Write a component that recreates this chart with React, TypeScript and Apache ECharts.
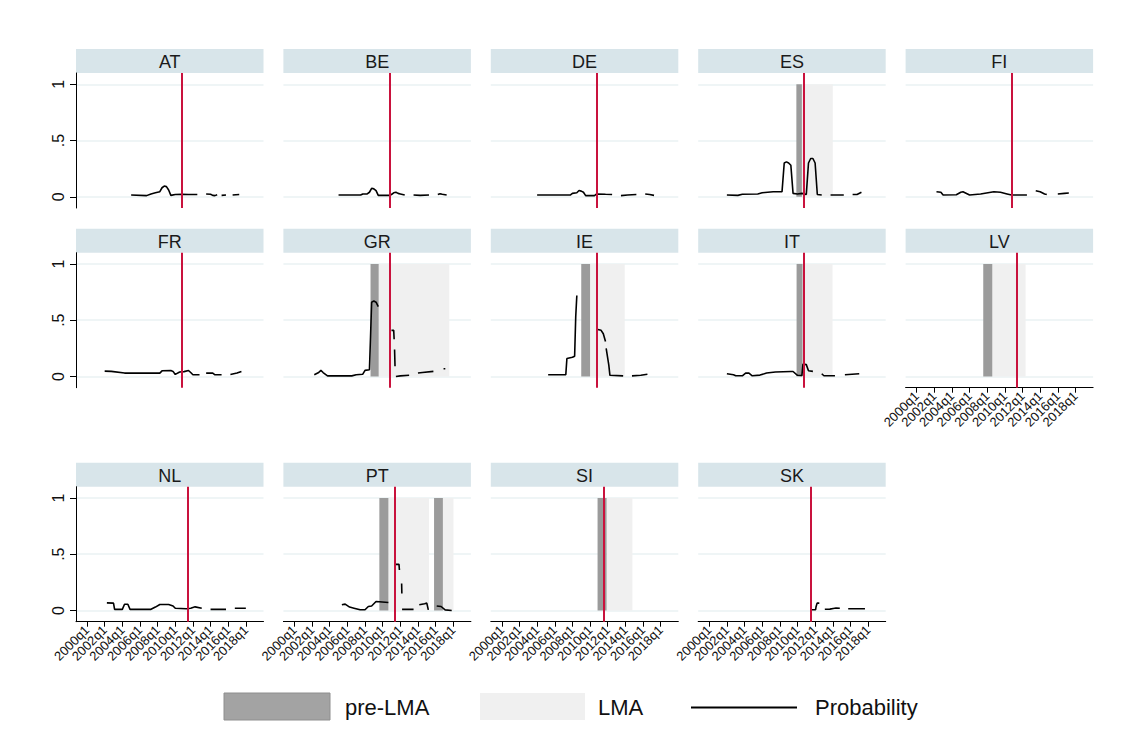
import React, { useEffect, useRef } from "react";
import * as echarts from "echarts";

type P = [number, number] | null;

const countries = ["AT", "BE", "DE", "ES", "FI", "FR", "GR", "IE", "IT", "LV", "NL", "PT", "SI", "SK"];
const redLineQuarter = [43, 43, 43, 43, 43, 43, 43, 43, 43, 45.5, 45.5, 45.5, 46, 46];
const panelsWithXAxis = ["LV", "NL", "PT", "SI", "SK"];

// quarter index: 0 = 2000q1
const X_MIN = -5;
const X_MAX = 80;
const xTickQuarters = [0, 8, 16, 24, 32, 40, 48, 56, 64, 72];
const xTickLabels = ["2000q1", "2002q1", "2004q1", "2006q1", "2008q1", "2010q1", "2012q1", "2014q1", "2016q1", "2018q1"];
const yTickValues = [0, 0.5, 1];
const yTickLabels = ["0", ".5", "1"];

const preLMAPeriods: [string, number, number][] = [
  ["ES", 39.5, 42], ["GR", 34.5, 38.2], ["IE", 36, 40], ["IT", 39.6, 42.3],
  ["LV", 30.2, 34.3], ["PT", 38.5, 42.6], ["PT", 63.3, 67.3], ["SI", 43.4, 47.5],
];
const lmaPeriods: [string, number, number][] = [
  ["ES", 42, 56], ["GR", 38.2, 70.2], ["IE", 40, 55.7], ["IT", 42.3, 55.9],
  ["LV", 34.3, 49.4], ["PT", 42.6, 61], ["PT", 67.3, 72.1], ["SI", 47.5, 59.2],
];

const probAT: P[] = [[20, 0.015], [27, 0.01], [29, 0.025], [31, 0.035], [33, 0.045], [34, 0.08], [35, 0.095], [36, 0.09], [37, 0.06], [38, 0.012], [40, 0.02], [43, 0.022], [46, 0.02], [50, 0.02], null, [54, 0.025], [56, 0.022], [57, 0.012], [58, 0.01], [59, 0.018], null, [61, 0.012], [63, 0.015], null, [66, 0.015], [69, 0.02]];
const probBE: P[] = [[20, 0.015], [30, 0.015], [31, 0.025], [33, 0.025], [34, 0.04], [35, 0.075], [36, 0.07], [37, 0.055], [38, 0.012], [43, 0.012], [44, 0.02], [45, 0.035], [46, 0.04], [47, 0.03], [48, 0.025], [50, 0.015], null, [54, 0.015], [57, 0.012], [61, 0.015], null, [65, 0.02], [66, 0.027], [67, 0.022], [69, 0.015]];
const probDE: P[] = [[16, 0.015], [31, 0.015], [32, 0.03], [34, 0.035], [35, 0.055], [36, 0.05], [37, 0.04], [38, 0.01], [42, 0.01], [43, 0.025], [47, 0.022], [50, 0.02], null, [54, 0.01], [57, 0.015], [61, 0.02], null, [65, 0.025], [67, 0.02], [69, 0.012]];
const probES: P[] = [[8, 0.015], [13, 0.012], [15, 0.022], [22, 0.024], [24, 0.035], [29, 0.045], [33, 0.045], [34, 0.3], [35, 0.31], [36, 0.3], [37, 0.28], [38, 0.03], [40, 0.025], [42, 0.03], [44, 0.02], [45, 0.3], [46, 0.34], [47, 0.34], [48, 0.3], [49, 0.02], [51, 0.015], null, [55, 0.015], [61, 0.015], null, [65, 0.02], [67, 0.02], [69, 0.04]];
const probFI: P[] = [[9, 0.044], [11, 0.04], [12, 0.015], [18, 0.018], [20, 0.04], [21, 0.044], [24, 0.015], [29, 0.025], [35, 0.044], [38, 0.04], [41, 0.025], [43, 0.015], [50, 0.015], null, [54, 0.054], [56, 0.045], [58, 0.025], [59, 0.02], null, [64, 0.025], [67, 0.03], [69, 0.033]];
const probFR: P[] = [[8, 0.047], [11, 0.045], [17, 0.03], [33, 0.03], [34, 0.05], [38, 0.053], [39, 0.045], [40, 0.018], [42, 0.04], [44, 0.043], [46, 0.053], [47, 0.035], [48, 0.015], [51, 0.015], null, [54, 0.03], [57, 0.03], [58, 0.015], [61, 0.015], null, [65, 0.018], [68, 0.03], [70, 0.045]];
const probGR: P[] = [[9, 0.015], [11, 0.035], [12, 0.054], [13, 0.035], [15, 0.005], [26, 0.005], [28, 0.015], [31, 0.02], [32, 0.054], [34, 0.06], [34.5, 0.35], [35, 0.66], [36, 0.67], [37, 0.66], [38, 0.62], null, [44, 0.41], [45, 0.41], [45.2, 0.33], null, [45.4, 0.24], [45.6, 0.09], null, [46, 0.0], [48, 0.005], [52, 0.01], null, [56, 0.03], [58, 0.035], [63, 0.045], null, [67.6, 0.068], [68.4, 0.068]];
const probIE: P[] = [[21, 0.015], [29, 0.015], [29.5, 0.16], [32, 0.17], [33, 0.18], [33.5, 0.53], [34, 0.72], null, [43, 0.42], [45, 0.41], [46, 0.38], [47, 0.31], null, [47.3, 0.25], [48.5, 0.1], [49, 0.01], [55, 0.005], null, [59, 0.005], [63, 0.01], [66, 0.02]];
const probIT: P[] = [[8, 0.024], [11, 0.015], [12, 0.006], [15, 0.006], [16.5, 0.03], [18, 0.03], [19.5, 0.006], [23, 0.012], [26, 0.03], [30, 0.04], [37, 0.044], [38, 0.044], [40, 0.01], [42, 0.008], [42.5, 0.11], [44, 0.105], [45, 0.05], [47, 0.045], null, [51, 0.024], [52, 0.006], [57, 0.006], null, [61.5, 0.015], [68, 0.024]];
const probNL: P[] = [[9, 0.067], [12, 0.065], [12.5, 0.01], [16, 0.01], [17, 0.055], [18.5, 0.055], [19.5, 0.01], [29, 0.01], [31, 0.03], [33, 0.053], [37, 0.053], [39, 0.04], [40, 0.02], [45, 0.015], [47, 0.02], [49, 0.032], [52, 0.02], null, [56, 0.01], [63, 0.01], null, [67, 0.02], [72, 0.02]];
const probPT: P[] = [[21.5, 0.05], [23, 0.056], [25, 0.03], [27, 0.02], [29.8, 0.006], [32, 0.006], [33.5, 0.035], [35, 0.04], [37, 0.08], [42.6, 0.07], null, [45.8, 0.41], [47.4, 0.41], [47.6, 0.36], null, [48.6, 0.24], [48.7, 0.15], null, [48.8, 0.01], [54, 0.01], null, [56.6, 0.05], [59, 0.06], [60, 0.065], [60.7, 0.005], null, [64.5, 0.04], [66.5, 0.035], [68.3, 0.005], [71.3, 0.0]];
const probSK: P[] = [[45.9, 0.006], [48.2, 0.006], [48.4, 0.03], [48.9, 0.065], [49.9, 0.065], null, [52.4, 0.01], [54.7, 0.012], [56.2, 0.018], [57.5, 0.022], [59.2, 0.02], null, [63, 0.015], [70.6, 0.015]];
const probLV: P[] = [];
const probSI: P[] = [];

const probability: Record<string, P[]> = {
  AT: probAT, BE: probBE, DE: probDE, ES: probES, FI: probFI, FR: probFR, GR: probGR,
  IE: probIE, IT: probIT, LV: probLV, NL: probNL, PT: probPT, SI: probSI, SK: probSK,
};

// layout
const FONT = "'Liberation Sans', Arial, sans-serif";
const LEFT0 = 76;
const COL_STEP = 207.4;
const PLOT_W = 187.5;
const PLOT_H = 135;
const HEADER_H = 24;
const ROW_TOP = [73, 252.7, 486.7];

const COLOR_PRE = "#9b9b9b";
const COLOR_LMA = "#f0f0f0";
const COLOR_RED = "#c9123d";
const COLOR_GRID = "#eaf2f3";
const COLOR_HEADER = "#d8e5ea";

function toSeriesData(arr: P[]) {
  const out: any[] = [];
  let lastX = 0;
  arr.forEach((p) => {
    if (p === null) out.push([lastX + 0.01, "-"]);
    else {
      out.push([p[0], p[1]]);
      lastX = p[0];
    }
  });
  return out;
}

// category positions -5..80 used only to place the rotated tick labels (all shown)
const labelCategories: string[] = [];
for (let q = X_MIN; q <= X_MAX; q++) labelCategories.push(String(q));

function buildOption() {
  const grids: any[] = [];
  const xAxes: any[] = [];
  const labelAxes: any[] = [];
  const yAxes: any[] = [];
  const series: any[] = [];
  const graphics: any[] = [];

  countries.forEach((c, i) => {
    const row = Math.floor(i / 5);
    const col = i % 5;
    const left = LEFT0 + col * COL_STEP;
    const top = ROW_TOP[row];
    grids.push({ left, top, width: PLOT_W, height: PLOT_H, containLabel: false });

    const showX = panelsWithXAxis.includes(c);
    const showY = col === 0;

    xAxes.push({
      gridIndex: i,
      type: "value",
      min: X_MIN,
      max: X_MAX,
      splitLine: { show: false },
      axisLine: { show: showX, onZero: false, lineStyle: { color: "#000", width: 1 } },
      axisTick: { show: showX, customValues: xTickQuarters, length: 5, lineStyle: { color: "#000", width: 1 } },
      axisLabel: { show: false },
    });

    if (showX) {
      labelAxes.push({
        gridIndex: i,
        type: "category",
        position: "bottom",
        boundaryGap: false,
        data: labelCategories,
        axisLine: { show: false, onZero: false },
        axisTick: { show: false },
        splitLine: { show: false },
        axisLabel: {
          show: true,
          interval: 0,
          rotate: 45,
          fontSize: 13,
          fontFamily: FONT,
          color: "#111",
          margin: 6,
          formatter: (v: string) => {
            const k = xTickQuarters.indexOf(Number(v));
            return k >= 0 ? xTickLabels[k] : "";
          },
        },
      });
    }

    yAxes.push({
      gridIndex: i,
      type: "value",
      min: -0.1,
      max: 1.1,
      splitLine: { show: true, lineStyle: { color: COLOR_GRID, width: 1.6 } },
      axisLine: { show: showY, onZero: false, lineStyle: { color: "#000", width: 1 } },
      axisTick: { show: showY, customValues: yTickValues, length: 6, lineStyle: { color: "#000", width: 1 } },
      axisLabel: {
        show: showY,
        customValues: yTickValues,
        showMinLabel: true,
        showMaxLabel: true,
        rotate: 90,
        fontSize: 16,
        fontFamily: FONT,
        color: "#111",
        margin: 10,
        formatter: (v: number) => {
          const k = yTickValues.findIndex((t) => Math.abs(t - v) < 1e-6);
          return k >= 0 ? yTickLabels[k] : "";
        },
      },
    });

    // shading
    const areas: any[] = [];
    lmaPeriods.filter((p) => p[0] === c).forEach((p) => {
      areas.push([{ xAxis: p[1], yAxis: 0, itemStyle: { color: COLOR_LMA } }, { xAxis: p[2], yAxis: 1 }]);
    });
    preLMAPeriods.filter((p) => p[0] === c).forEach((p) => {
      areas.push([{ xAxis: p[1], yAxis: 0, itemStyle: { color: COLOR_PRE } }, { xAxis: p[2], yAxis: 1 }]);
    });
    if (areas.length) {
      series.push({
        type: "line",
        xAxisIndex: i,
        yAxisIndex: i,
        data: [],
        z: 2,
        silent: true,
        markArea: { silent: true, label: { show: false }, data: areas },
      });
    }

    // probability line
    series.push({
      type: "line",
      name: "Probability",
      xAxisIndex: i,
      yAxisIndex: i,
      data: toSeriesData(probability[c]),
      showSymbol: false,
      connectNulls: false,
      z: 3,
      silent: true,
      lineStyle: { color: "#000", width: 1.6 },
    });

    // red vertical line
    series.push({
      type: "line",
      xAxisIndex: i,
      yAxisIndex: i,
      data: [],
      z: 4,
      silent: true,
      markLine: {
        silent: true,
        symbol: ["none", "none"],
        label: { show: false },
        lineStyle: { color: COLOR_RED, width: 2, type: "solid" },
        data: [{ xAxis: redLineQuarter[i] }],
      },
    });

    // header strip
    graphics.push({
      type: "rect",
      shape: { x: left, y: top - HEADER_H, width: PLOT_W, height: HEADER_H },
      style: { fill: COLOR_HEADER },
      silent: true,
    });
    graphics.push({
      type: "text",
      x: left + PLOT_W / 2,
      y: top - HEADER_H / 2 + 1,
      style: { text: c, fontSize: 18, fontFamily: FONT, fill: "#1a1a1a", align: "center", verticalAlign: "middle" },
      silent: true,
    });
  });

  // legend
  const ly = 693;
  const lh = 27;
  graphics.push(
    { type: "rect", shape: { x: 224, y: ly, width: 106, height: lh }, style: { fill: "#a3a3a3", stroke: "#8e8e8e", lineWidth: 1 } },
    { type: "text", x: 345, y: ly + lh / 2 + 1, style: { text: "pre-LMA", fontSize: 22, fontFamily: FONT, fill: "#111", align: "left", verticalAlign: "middle" } },
    { type: "rect", shape: { x: 480, y: ly, width: 105, height: lh }, style: { fill: COLOR_LMA } },
    { type: "text", x: 598, y: ly + lh / 2 + 1, style: { text: "LMA", fontSize: 22, fontFamily: FONT, fill: "#111", align: "left", verticalAlign: "middle" } },
    { type: "line", shape: { x1: 691, y1: ly + lh / 2 + 1, x2: 797, y2: ly + lh / 2 + 1 }, style: { stroke: "#000", lineWidth: 2 } },
    { type: "text", x: 815, y: ly + lh / 2 + 1, style: { text: "Probability", fontSize: 22, fontFamily: FONT, fill: "#111", align: "left", verticalAlign: "middle" } }
  );

  return {
    animation: false,
    backgroundColor: "#ffffff",
    grid: grids,
    xAxis: [...xAxes, ...labelAxes],
    yAxis: yAxes,
    series,
    graphic: graphics,
  };
}

export default function App() {
  const ref = useRef<HTMLDivElement>(null);
  useEffect(() => {
    document.body.style.margin = "0";
    if (!ref.current) return;
    const chart = echarts.init(ref.current, undefined, { renderer: "svg" });
    chart.setOption(buildOption() as any);
    return () => chart.dispose();
  }, []);
  return <div ref={ref} style={{ width: 1125, height: 731, background: "#fff" }} />;
}
